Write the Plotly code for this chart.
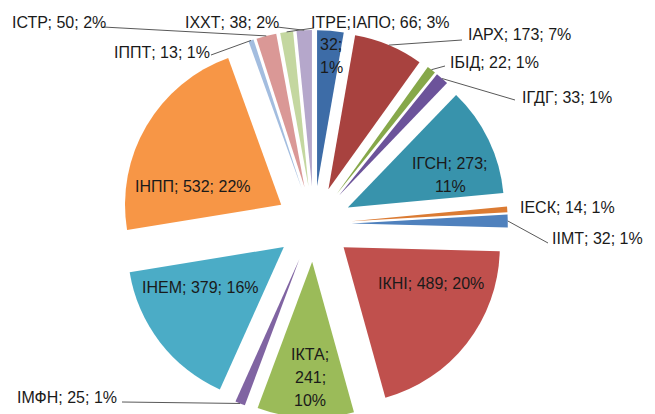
import math
import plotly.graph_objects as go

# Institute codes, counts and slice colours (clockwise from 12 o'clock)
labels = ['ІАПО', 'ІАРХ', 'ІБІД', 'ІГДГ', 'ІГСН', 'ІЕСК', 'ІІМТ', 'ІКНІ',
          'ІКТА', 'ІМФН', 'ІНЕМ', 'ІНПП', 'ІППТ', 'ІСТР', 'ІТРЕ', 'ІХХТ']
values = [66, 173, 22, 33, 273, 14, 32, 489, 241, 25, 379, 532, 13, 50, 32, 38]
colors = ['#3D6CA7', '#A8423F', '#86A84A', '#6C539A', '#3893AC', '#DB7B33',
          '#4F81BD', '#C0504D', '#9BBB59', '#8064A2', '#4BACC6', '#F79646',
          '#A3BDDF', '#DA9896', '#C4D7A0', '#B5A7CB']

W, H = 655, 414
OFF = 8                      # page body margin around the plot div
PULL = 0.242
CX, CY = 313.8, 224.0        # pie centre, window pixels
HALF = 194.0                 # radius incl. pull

total = sum(values)

def px(x, y):
    # window pixels -> paper coordinates
    return (x - OFF) / W, 1 - (y - OFF) / H

def label_text(i):
    return f"{labels[i]}; {values[i]}; {round(values[i] / total * 100)}%"

dx0, dy1 = px(CX - HALF, CY - HALF)
dx1, dy0 = px(CX + HALF, CY + HALF)

fig = go.Figure()
fig.add_trace(go.Pie(
    labels=labels,
    values=values,
    sort=False,
    direction='clockwise',
    rotation=0,
    pull=[PULL] * len(values),
    marker=dict(colors=colors, line=dict(width=0)),
    textinfo='none',
    hoverinfo='skip',
    showlegend=False,
    domain=dict(x=[dx0, dx1], y=[dy0, dy1]),
))

# label placement (window pixels): x, y of first line, anchor, line breaks, leader-line start
label_pos = {
    'ІСТР': (10, 22, 'left', None, (103, 27)),
    'ІППТ': (112, 52, 'left', None, (211, 55)),
    'ІХХТ': (183, 22, 'left', None, (277, 27)),
    'ІТРЕ': (331, 22, 'center', [1, 2], (314, 28)),
    'ІАПО': (350, 22, 'left', None, None),
    'ІАРХ': (466, 35, 'left', None, (462, 40)),
    'ІБІД': (448, 62, 'left', None, (445, 66)),
    'ІГДГ': (520, 98, 'left', None, (515, 100)),
    'ІЕСК': (518, 207, 'left', None, None),
    'ІІМТ': (645, 238, 'right', None, (548, 243)),
    'ІМФН': (15, 397, 'left', None, (122, 402)),
    'ІГСН': (450, 163, 'center', [2], None),
    'ІКНІ': (431, 283, 'center', None, None),
    'ІКТА': (310, 354, 'center', [1, 2], None),
    'ІНЕМ': (200, 287, 'center', None, None),
    'ІНПП': (193, 186, 'center', None, None),
}
LINE_GAP = 23

annotations = []
shapes = []
cum = 0
for i, lab in enumerate(labels):
    mid = (cum + values[i] / 2) / total * 2 * math.pi
    cum += values[i]
    x, y, anchor, breaks, lstart = label_pos[lab]
    words = label_text(i).split(' ')
    if breaks:
        parts, prev = [], 0
        for b in breaks + [len(words)]:
            parts.append(' '.join(words[prev:b]))
            prev = b
    else:
        parts = [' '.join(words)]
    for k, part in enumerate(parts):
        ax, ay = px(x, y + k * LINE_GAP)
        annotations.append(dict(
            x=ax, y=ay, xref='paper', yref='paper', text=part, showarrow=False,
            xanchor=anchor, yanchor='middle',
            font=dict(family='Liberation Sans, Arial', size=16, color='#1a1a1a'),
        ))
    if lstart:
        # end of leader line: outer arc of the slice at its mid-angle
        ex = CX + HALF * math.sin(mid)
        ey = CY - HALF * math.cos(mid)
        x0, y0 = px(*lstart)
        x1, y1 = px(ex, ey)
        shapes.append(dict(type='line', xref='paper', yref='paper',
                           x0=x0, y0=y0, x1=x1, y1=y1,
                           line=dict(color='#595959', width=1)))

fig.update_layout(
    width=W, height=H,
    margin=dict(l=0, r=0, t=0, b=0),
    paper_bgcolor='white',
    plot_bgcolor='white',
    annotations=annotations,
    shapes=shapes,
)

fig.write_html("out.html")
